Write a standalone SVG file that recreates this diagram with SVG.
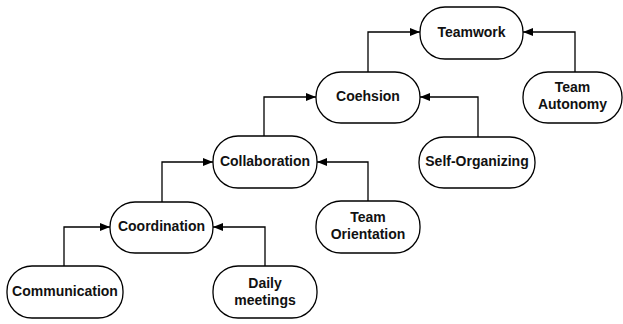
<svg xmlns="http://www.w3.org/2000/svg" width="623" height="324" viewBox="0 0 623 324">
  <defs>
    <marker id="arrow" viewBox="0 0 10 8" refX="10" refY="4" markerWidth="10" markerHeight="8" markerUnits="userSpaceOnUse" orient="auto">
      <path d="M0,0 L10,4 L0,8 Z" fill="#000"/>
    </marker>
    <style>
      .node rect { fill: #fff; stroke: #000; stroke-width: 1.3; }
      .node text { font-family: "Liberation Sans", Arial, sans-serif; font-weight: bold; font-size: 14px; fill: #111; text-anchor: middle; }
      .edges path { fill: none; stroke: #000; stroke-width: 1.3; marker-end: url(#arrow); }
    </style>
  </defs>
  <rect width="623" height="324" fill="#fff"/>

  <g class="edges" id="connectors">
    <path d="M64,266 V227 H110"/>
    <path d="M265,266 V227 H213"/>
    <path d="M162,202 V162 H213"/>
    <path d="M368,201 V162 H317"/>
    <path d="M264,136 V97 H316"/>
    <path d="M478,137 V97 H420"/>
    <path d="M368,72 V32 H420"/>
    <path d="M575,72 V32 H523"/>
  </g>

  <g class="node" id="communication">
    <rect x="7" y="266" width="116" height="52" rx="25"/>
    <text x="65" y="296">Communication</text>
  </g>
  <g class="node" id="daily-meetings">
    <rect x="213" y="266" width="104" height="52" rx="25"/>
    <text x="265" y="288">Daily</text>
    <text x="265" y="305">meetings</text>
  </g>
  <g class="node" id="coordination">
    <rect x="110" y="202" width="103" height="51" rx="25"/>
    <text x="161.5" y="231">Coordination</text>
  </g>
  <g class="node" id="team-orientation">
    <rect x="316" y="201" width="104" height="52" rx="25"/>
    <text x="368" y="222">Team</text>
    <text x="368" y="239">Orientation</text>
  </g>
  <g class="node" id="collaboration">
    <rect x="213" y="136" width="104" height="52" rx="25"/>
    <text x="265" y="166">Collaboration</text>
  </g>
  <g class="node" id="self-organizing">
    <rect x="419" y="137" width="116" height="51" rx="25"/>
    <text x="477" y="166">Self-Organizing</text>
  </g>
  <g class="node" id="coehsion">
    <rect x="316" y="72" width="104" height="51" rx="25"/>
    <text x="368" y="101">Coehsion</text>
  </g>
  <g class="node" id="team-autonomy">
    <rect x="523" y="72" width="99" height="51" rx="25"/>
    <text x="572.5" y="92">Team</text>
    <text x="572.5" y="109">Autonomy</text>
  </g>
  <g class="node" id="teamwork">
    <rect x="420" y="7" width="103" height="52" rx="25"/>
    <text x="471.5" y="37">Teamwork</text>
  </g>
</svg>
